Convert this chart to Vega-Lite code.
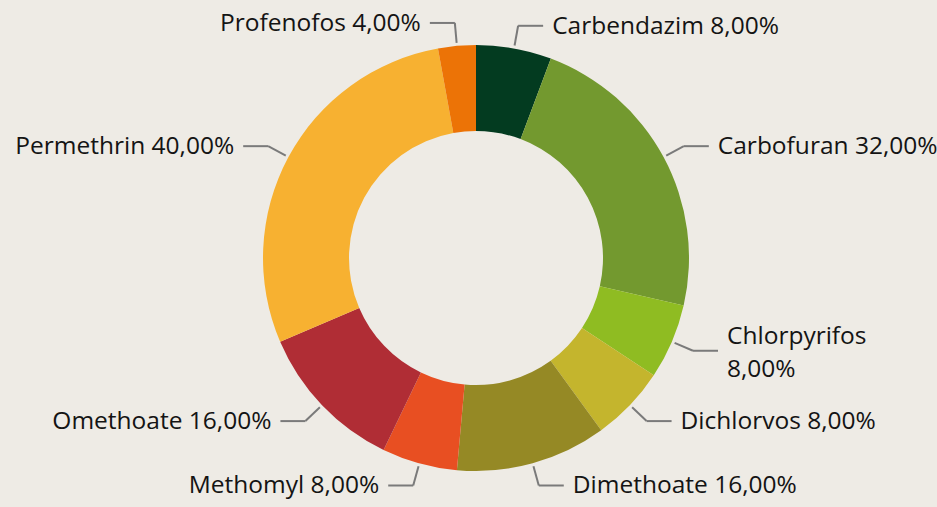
{
  "$schema": "https://vega.github.io/schema/vega-lite/v6.json",
  "width": 922,
  "height": 498,
  "autosize": {"type": "none"},
  "padding": {"left": 15, "top": 9, "right": 0, "bottom": 0},
  "background": "#eeebe5",
  "config": {"view": {"stroke": null}},
  "data": {
    "values": [
      {"name": "Carbendazim", "value": 8, "label": "Carbendazim 8,00%"},
      {"name": "Carbofuran", "value": 32, "label": "Carbofuran 32,00%"},
      {"name": "Chlorpyrifos", "value": 8, "label": "Chlorpyrifos\n8,00%"},
      {"name": "Dichlorvos", "value": 8, "label": "Dichlorvos 8,00%"},
      {"name": "Dimethoate", "value": 16, "label": "Dimethoate 16,00%"},
      {"name": "Methomyl", "value": 8, "label": "Methomyl 8,00%"},
      {"name": "Omethoate", "value": 16, "label": "Omethoate 16,00%"},
      {"name": "Permethrin", "value": 40, "label": "Permethrin 40,00%"},
      {"name": "Profenofos", "value": 4, "label": "Profenofos 4,00%"}
    ]
  },
  "transform": [
    {"window": [{"op": "sum", "field": "value", "as": "cum"}], "frame": [null, 0]},
    {"joinaggregate": [{"op": "sum", "field": "value", "as": "total"}]},
    {"calculate": "(datum.cum - datum.value / 2) / datum.total * 2 * PI", "as": "mid"},
    {"calculate": "216 * sin(datum.mid)", "as": "x1"},
    {"calculate": "216 * cos(datum.mid)", "as": "y1"},
    {"calculate": "236 * sin(datum.mid)", "as": "x2"},
    {"calculate": "236 * cos(datum.mid)", "as": "y2"},
    {"calculate": "datum.x2 + (sin(datum.mid) >= 0 ? 25 : -25)", "as": "x3"},
    {"calculate": "datum.x3 + (sin(datum.mid) >= 0 ? 9 : -9)", "as": "tx"},
    {"calculate": "sin(datum.mid) >= 0 ? 'left' : 'right'", "as": "side"}
  ],
  "layer": [
    {
      "mark": {"type": "arc", "innerRadius": 127, "outerRadius": 213},
      "encoding": {
        "theta": {"field": "value", "type": "quantitative", "stack": true},
        "order": {"field": "cum", "type": "quantitative"},
        "color": {
          "field": "name",
          "type": "nominal",
          "legend": null,
          "scale": {
            "domain": ["Carbendazim", "Carbofuran", "Chlorpyrifos", "Dichlorvos", "Dimethoate", "Methomyl", "Omethoate", "Permethrin", "Profenofos"],
            "range": ["#033b20", "#73992f", "#8fbc22", "#c4b52d", "#958925", "#e84f22", "#b02d35", "#f7b131", "#ec7306"]
          }
        }
      }
    },
    {
      "mark": {"type": "rule", "color": "#7a7a7a", "strokeWidth": 2},
      "encoding": {
        "x": {"field": "x1", "type": "quantitative", "scale": {"domain": [-461, 461], "nice": false, "zero": false}, "axis": null},
        "y": {"field": "y1", "type": "quantitative", "scale": {"domain": [-249, 249], "nice": false, "zero": false}, "axis": null},
        "x2": {"field": "x2"},
        "y2": {"field": "y2"}
      }
    },
    {
      "mark": {"type": "rule", "color": "#7a7a7a", "strokeWidth": 2},
      "encoding": {
        "x": {"field": "x2", "type": "quantitative"},
        "y": {"field": "y2", "type": "quantitative"},
        "x2": {"field": "x3"}
      }
    },
    {
      "mark": {"type": "text", "font": "Open Sans", "fontSize": 24.5, "color": "#141414", "baseline": "middle", "lineBreak": "\n", "lineHeight": 33, "align": {"expr": "datum.side"}, "dy": {"expr": "indexof(datum.label, '\\n') >= 0 ? -14 : 1"}},
      "encoding": {
        "x": {"field": "tx", "type": "quantitative"},
        "y": {"field": "y2", "type": "quantitative"},
        "text": {"field": "label", "type": "nominal"}
      }
    }
  ]
}
